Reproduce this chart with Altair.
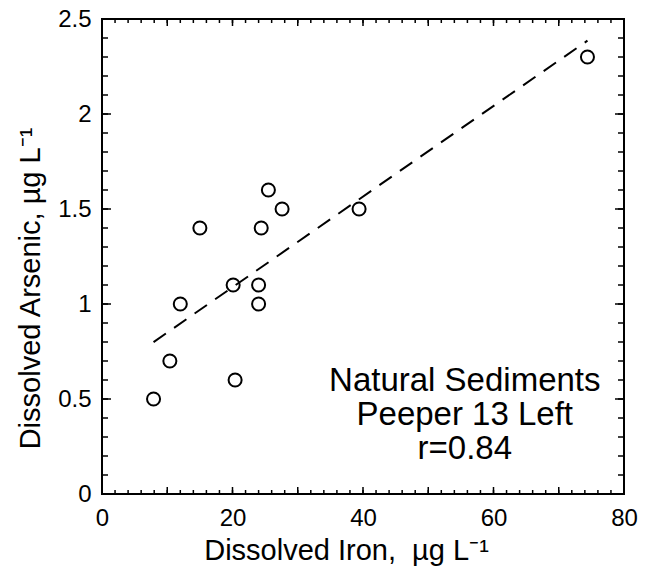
import altair as alt
import pandas as pd

# ---- data ----
iron = [7.9, 10.4, 12.0, 15.0, 20.1, 20.4, 24.0, 24.0, 24.4, 25.5, 27.6, 39.4, 74.4]
arsenic = [0.5, 0.7, 1.0, 1.4, 1.1, 0.6, 1.1, 1.0, 1.4, 1.6, 1.5, 1.5, 2.3]

x_labels = [0, 20, 40, 60, 80]
y_labels = [0, 0.5, 1, 1.5, 2, 2.5]
x_minor = list(range(0, 81, 2))
x_major = list(range(0, 81, 10))
y_minor = [round(i * 0.1, 1) for i in range(26)]
y_major = [0, 0.5, 1, 1.5, 2, 2.5]

note_lines = ["Natural Sediments", "Peeper 13 Left", "r=0.84"]
note_pos = {"x": 55.6, "y": 0.595}

x_title = "Dissolved Iron,\u00a0 µg L⁻¹"
y_title = "Dissolved Arsenic, µg L⁻¹"

# ---- layout ----
W, H = 522, 475
FONT = "Liberation Sans"

xs = alt.Scale(domain=[0, 80], nice=False, zero=False)
ys = alt.Scale(domain=[0, 2.5], nice=False, zero=False)

df = pd.DataFrame({"iron": iron, "arsenic": arsenic})

points = alt.Chart(df).mark_point(
    shape="circle", filled=False, color="black", strokeWidth=2, size=170, opacity=1
).encode(
    x=alt.X("iron:Q", scale=xs, axis=alt.Axis(
        values=x_labels, title=x_title, labelPadding=12, labelFlush=False,
        labelFont=FONT, labelFontSize=24, titleFont=FONT, titleFontSize=29,
        titleX=244, titleY=65, titleAlign="center", titleBaseline="alphabetic")),
    y=alt.Y("arsenic:Q", scale=ys, axis=alt.Axis(
        values=y_labels, title=y_title, format="~g", labelPadding=11, labelFlush=False,
        labelFont=FONT, labelFontSize=24, titleFont=FONT, titleFontSize=29,
        titleX=-63, titleY=269, titleAlign="center", titleBaseline="alphabetic")),
)

fit = alt.Chart(df).transform_regression("iron", "arsenic").mark_line(
    color="black", strokeWidth=2, strokeDash=[15, 10]
).encode(
    x=alt.X("iron:Q", scale=xs),
    y=alt.Y("arsenic:Q", scale=ys),
)


def x_ticks(vals, length):
    base = alt.Chart(pd.DataFrame({"v": vals})).mark_rule(color="black", strokeWidth=1.5)
    xe = alt.X("v:Q", scale=xs)
    return [
        base.encode(x=xe, y=alt.value(H), y2=alt.value(H - length)),
        base.encode(x=xe, y=alt.value(0), y2=alt.value(length)),
    ]


def y_ticks(vals, length):
    base = alt.Chart(pd.DataFrame({"v": vals})).mark_rule(color="black", strokeWidth=1.5)
    ye = alt.Y("v:Q", scale=ys)
    return [
        base.encode(y=ye, x=alt.value(0), x2=alt.value(length)),
        base.encode(y=ye, x=alt.value(W), x2=alt.value(W - length)),
    ]


tick_layers = x_ticks(x_minor, 4) + x_ticks(x_major, 7) + y_ticks(y_minor, 6) + y_ticks(y_major, 9)

note = alt.Chart(pd.DataFrame({"a": [0]})).mark_text(
    text=note_lines, font=FONT, fontSize=33, color="black", align="center",
    baseline="middle", lineHeight=34
).encode(
    x=alt.datum(note_pos["x"], scale=xs),
    y=alt.datum(note_pos["y"], scale=ys),
)

chart = alt.layer(points, fit, *tick_layers, note).properties(
    width=W, height=H,
    autosize=alt.AutoSizeParams(type="none"),
    padding={"left": 102, "top": 19, "right": 21, "bottom": 84},
    background="white",
).configure_view(
    stroke="black", strokeWidth=2
).configure_axis(
    domain=False, ticks=False, grid=False,
    labelColor="black", titleColor="black", titleFontWeight="normal",
)

chart.save("out.html", embed_options={"renderer": "svg", "actions": False})
